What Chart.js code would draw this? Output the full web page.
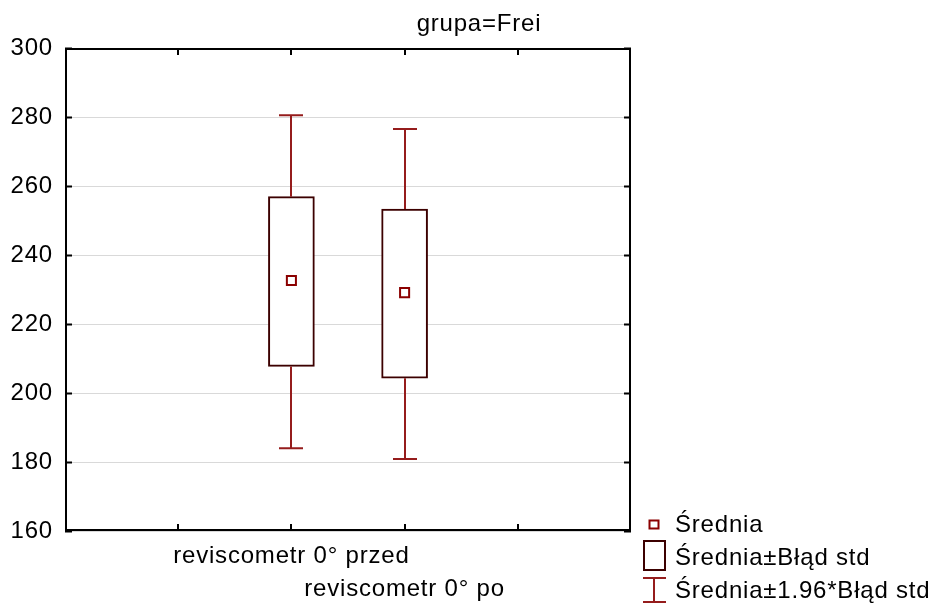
<!DOCTYPE html>
<html>
<head>
<meta charset="utf-8">
<script src="https://cdn.jsdelivr.net/npm/chart.js@4.4.1/dist/chart.umd.min.js"></script>
<style>
  html, body { margin: 0; padding: 0; background: #ffffff; }
  #wrap { width: 940px; height: 610px; position: relative; }
</style>
</head>
<body>
<div id="wrap"><canvas id="c" width="940" height="610"></canvas></div>
<script>
// ---- data ----
const title = 'grupa=Frei';
const categories = ['reviscometr 0° przed', 'reviscometr 0° po'];
const categoryPos = [2, 3];           // position of each category on the x axis (0..5)
const xTickValues = [1, 2, 3, 4];
const means = [232.6, 229.1];
const seLow = [207.7, 204.3];
const seHigh = [256.9, 253.3];
const ciLow = [184.0, 180.9];
const ciHigh = [280.5, 276.5];
const yTicks = [160, 180, 200, 220, 240, 260, 280, 300];
const legendLabels = ['Średnia', 'Średnia±Błąd std', 'Średnia±1.96*Błąd std'];

// ---- styles ----
const FONT = '"Liberation Sans", Arial, sans-serif';
const FS = 24;
const LS = '0.8px';
const boxColor = '#3c0000';
const whiskerColor = '#951c1c';
const meanColor = '#8b0000';

const boxData = categories.map((c, i) => ({ x: categoryPos[i], y: [seLow[i], seHigh[i]] }));
const meanData = categories.map((c, i) => ({ x: categoryPos[i], y: means[i] }));

const spacingPlugin = {
  id: 'spacing',
  beforeInit(chart) { chart.ctx.letterSpacing = LS; },
  beforeUpdate(chart) { chart.ctx.letterSpacing = LS; },
  beforeDraw(chart) { chart.ctx.letterSpacing = LS; }
};

const framePlugin = {
  id: 'frame',
  afterDatasetsDraw(chart) {
    const ctx = chart.ctx;
    const xs = chart.scales.x, ys = chart.scales.y;
    ctx.save();
    ctx.strokeStyle = whiskerColor;
    ctx.lineWidth = 2;
    categories.forEach((c, i) => {
      const px = Math.round(xs.getPixelForValue(categoryPos[i]));
      const segs = [[seHigh[i], ciHigh[i]], [seLow[i], ciLow[i]]];
      segs.forEach(([a, b]) => {
        const pa = ys.getPixelForValue(a), pb = ys.getPixelForValue(b);
        ctx.beginPath();
        ctx.moveTo(px, pa);
        ctx.lineTo(px, pb);
        ctx.moveTo(px - 12, pb);
        ctx.lineTo(px + 12, pb);
        ctx.stroke();
      });
    });
    ctx.restore();
  },
  afterDraw(chart) {
    const ctx = chart.ctx;
    const { left, right, top, bottom } = chart.chartArea;
    const xs = chart.scales.x, ys = chart.scales.y;
    ctx.save();
    ctx.strokeStyle = '#000';
    ctx.lineWidth = 2;
    ctx.strokeRect(left + 1, top + 1, right - left - 2, bottom - top - 2);
    ctx.beginPath();
    yTicks.forEach(v => {
      const py = Math.round(ys.getPixelForValue(v)) + 0.5;
      ctx.moveTo(left, py); ctx.lineTo(left + 7, py);
      ctx.moveTo(right, py); ctx.lineTo(right - 7, py);
    });
    xTickValues.forEach(v => {
      const px = Math.round(xs.getPixelForValue(v));
      ctx.moveTo(px, bottom); ctx.lineTo(px, bottom - 7);
      ctx.moveTo(px, top); ctx.lineTo(px, top + 7);
    });
    ctx.stroke();

    // title
    ctx.letterSpacing = LS;
    ctx.fillStyle = '#000';
    ctx.font = FS + 'px ' + FONT;
    ctx.textAlign = 'center';
    ctx.textBaseline = 'alphabetic';
    ctx.fillText(title, 479, 31);

    // legend
    const lx = 654, tx = 675;
    const rows = [532, 565, 598];
    ctx.textAlign = 'left';
    legendLabels.forEach((t, i) => ctx.fillText(t, tx, rows[i]));
    ctx.strokeStyle = meanColor;
    ctx.lineWidth = 2;
    ctx.strokeRect(lx - 4.5, 520.5, 9, 8);
    ctx.strokeStyle = boxColor;
    ctx.strokeRect(644, 541, 21, 29);
    ctx.strokeStyle = whiskerColor;
    ctx.beginPath();
    ctx.moveTo(lx, 578); ctx.lineTo(lx, 602);
    ctx.moveTo(lx - 11, 578); ctx.lineTo(lx + 12, 578);
    ctx.moveTo(lx - 11, 602); ctx.lineTo(lx + 12, 602);
    ctx.stroke();
    ctx.restore();
  }
};

new Chart(document.getElementById('c'), {
  type: 'bar',
  data: {
    datasets: [
      {
        type: 'scatter',
        data: meanData,
        order: 0,
        pointStyle: 'rect',
        pointRadius: 6.4,
        pointHoverRadius: 6.4,
        backgroundColor: '#ffffff',
        borderColor: meanColor,
        borderWidth: 2
      },
      {
        type: 'bar',
        data: boxData,
        order: 1,
        barThickness: 46,
        backgroundColor: '#ffffff',
        borderColor: boxColor,
        borderWidth: 2,
        borderSkipped: false
      }
    ]
  },
  options: {
    responsive: false,
    animation: false,
    events: [],
    layout: { padding: { top: 48, right: 309, left: 0, bottom: 0 } },
    plugins: { legend: { display: false }, title: { display: false }, tooltip: { enabled: false } },
    scales: {
      x: {
        type: 'linear',
        min: 0, max: 5,
        offset: false,
        border: { display: false },
        grid: { display: false, drawTicks: false, offset: false },
        afterFit(scale) { scale.height = 79; },
        afterBuildTicks(scale) {
          scale.ticks = [0, 1, 2, 3, 4, 5].map(v => ({ value: v }));
        },
        ticks: {
          autoSkip: false,
          maxRotation: 0,
          minRotation: 0,
          padding: 9,
          color: '#000',
          font: { family: FONT, size: FS, lineHeight: 1.375 },
          callback(value) {
            const i = categoryPos.indexOf(value);
            if (i < 0) return '';
            return i % 2 === 0 ? [categories[i], ''] : ['', categories[i]];
          }
        }
      },
      y: {
        min: 160, max: 300,
        border: { display: false },
        grid: { color: '#d9d9d9', lineWidth: 1, drawTicks: false },
        afterFit(scale) { scale.width = 65; },
        afterBuildTicks(scale) { scale.ticks = yTicks.map(v => ({ value: v })); },
        ticks: {
          padding: 12,
          color: '#000',
          font: { family: FONT, size: FS }
        }
      }
    }
  },
  plugins: [spacingPlugin, framePlugin]
});
</script>
</body>
</html>
